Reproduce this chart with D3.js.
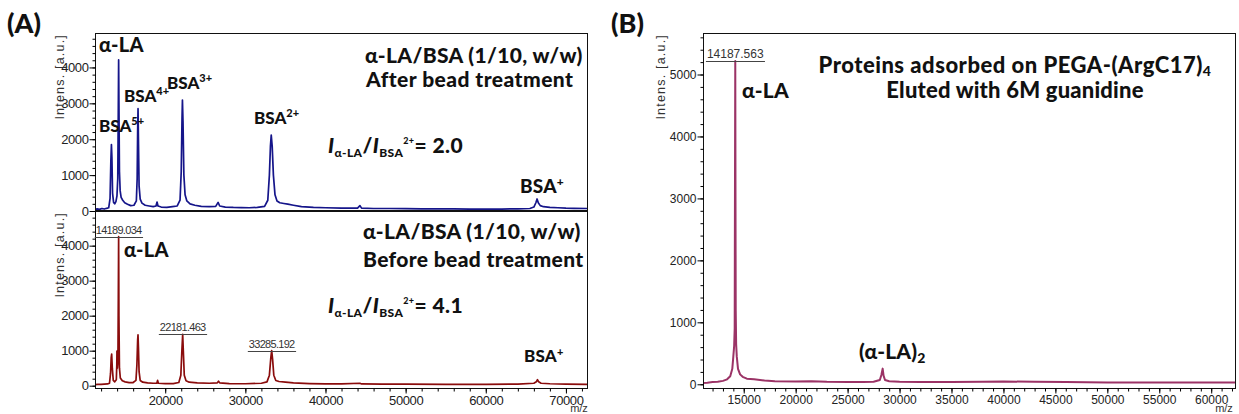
<!DOCTYPE html>
<html>
<head>
<meta charset="utf-8">
<script src="https://cdn.jsdelivr.net/npm/d3@7"></script>
<style>
  body { margin: 0; background: #fff; }
  svg { display: block; }
  .tick text { font-family: "Liberation Sans", Arial, sans-serif; fill: #222; }
  .lbl { font-family: Lato, "Open Sans", sans-serif; font-weight: 900; fill: #111; }
  .ylab, .mz, .peaklab { font-family: "Liberation Sans", Arial, sans-serif; fill: #333; }
</style>
</head>
<body>
<svg id="chart" width="1239" height="414"></svg>
<script>

    //=========================================================================
    // Data (m/z, intensity)
    //=========================================================================
    var afterBead = [
      [11240,40],[11500,60],[11800,45],[12100,70],[12400,55],[12700,75],[12950,90],
      [13120,350],[13220,1400],[13290,1850],[13350,1500],[13430,500],[13560,240],
      [13700,200],[13850,260],[13980,420],[14080,900],[14140,2600],[14189,4210],
      [14230,2900],[14290,1100],[14380,560],[14500,380],[14700,300],[14950,230],
      [15300,190],[15700,150],[16100,160],[16400,280],[16500,900],[16560,2200],
      [16610,2850],[16660,2000],[16740,700],[16880,330],[17100,220],[17500,160],
      [18000,140],[18500,120],[18850,140],[18980,250],[19100,140],[19500,110],
      [20200,100],[20900,120],[21500,140],[21850,300],[22000,1100],[22100,2600],
      [22150,3090],[22220,2500],[22330,1000],[22480,450],[22700,280],[23100,200],
      [23700,160],[24500,130],[25500,120],[26300,130],[26600,240],[26800,140],
      [27500,110],[28500,100],[29500,95],[30500,90],[31500,100],[32400,130],
      [32800,300],[33000,1000],[33130,1800],[33230,2115],[33350,1800],[33500,1000],
      [33700,450],[33950,280],[34300,230],[34800,210],[35300,190],[36000,160],
      [37000,120],[38500,100],[40000,90],[42000,80],[44000,80],[44300,150],
      [44500,80],[46000,70],[48000,70],[50000,65],[52000,60],[54000,60],[56000,60],
      [58000,55],[60000,55],[62000,55],[64000,60],[65500,70],[66000,110],[66250,230],
      [66400,335],[66550,230],[66800,150],[67200,120],[68000,100],[69000,90],
      [70000,80],[71000,75],[72630,70]
    ];

    var beforeBead = [
      [11240,30],[11600,40],[12000,35],[12400,45],[12800,50],[13050,70],[13180,350],
      [13260,800],[13320,905],[13400,500],[13520,150],[13700,110],[13900,170],
      [13960,600],[13980,990],[14030,500],[14100,700],[14150,2500],[14189,4257],
      [14225,2000],[14290,500],[14400,220],[14650,140],[15000,110],[15500,90],
      [16000,90],[16350,150],[16470,600],[16560,1300],[16608,1450],[16660,1100],
      [16740,400],[16880,150],[17200,100],[17800,80],[18500,70],[18950,70],
      [19050,150],[19150,70],[20000,60],[21000,60],[21700,90],[21950,300],
      [22080,1000],[22181,1470],[22260,1000],[22380,300],[22600,140],[23000,100],
      [24000,80],[25500,70],[26500,80],[26650,130],[26800,80],[28000,60],[30000,55],
      [32000,70],[32700,110],[33000,300],[33180,800],[33285,1000],[33400,750],
      [33550,300],[33800,150],[34200,120],[35000,100],[36000,80],[38000,60],
      [40000,50],[42000,50],[44300,70],[44500,50],[47000,45],[50000,45],[55000,40],
      [60000,40],[64000,45],[66000,70],[66300,110],[66450,170],[66600,110],
      [66900,70],[68000,55],[70000,45],[72630,40]
    ];

    var eluted = [
      [11080,20],[11500,25],[12000,35],[12500,40],[13000,55],[13400,80],[13700,130],
      [13900,250],[14000,450],[14080,620],[14130,900],[14160,3300],[14187,5218],
      [14205,3300],[14230,1200],[14270,650],[14330,450],[14450,250],[14650,160],
      [14900,120],[15300,90],[16000,80],[17000,60],[18000,50],[20000,45],[21500,50],
      [23000,40],[25000,35],[26500,35],[27500,40],[28100,70],[28250,150],[28374,253],
      [28460,140],[28600,70],[29000,50],[30000,40],[32000,35],[35000,35],[38000,40],
      [40000,45],[43000,40],[46000,35],[50000,30],[54000,30],[58000,30],[62290,30]
    ];

    // labelled peaks: [m/z, intensity, label]
    var beforePeaks = [[14189.034, 4257, "14189.034"], [22181.463, 1470, "22181.463"], [33285.192, 1000, "33285.192"]];
    var elutedPeaks = [[14187.563, 5218, "14187.563"]];

    // tick values
    var aXTicks = [20000, 30000, 40000, 50000, 60000, 70000];
    var aYTicks = [0, 1000, 2000, 3000, 4000];
    var bXTicks = [15000, 20000, 25000, 30000, 35000, 40000, 45000, 50000, 55000, 60000];
    var bYTicks = [0, 1000, 2000, 3000, 4000, 5000];

    //=========================================================================
    // Panel helper
    //=========================================================================
    var svg = d3.select("#chart");
    var clipId = 0;

    function makePanel(o) {
      var x = d3.scaleLinear().domain(o.xDomain).range([o.left, o.right]);
      var y = d3.scaleLinear().domain(o.yDomain).range([o.bottom, o.top]);
      var g = svg.append("g");

      clipId++;
      svg.append("clipPath").attr("id", "clip" + clipId)
        .append("rect")
        .attr("x", o.left).attr("y", o.top)
        .attr("width", o.right - o.left).attr("height", o.bottom - o.top);

      // spectrum
      g.append("path")
        .datum(o.data)
        .attr("clip-path", "url(#clip" + clipId + ")")
        .attr("fill", "none")
        .attr("stroke", o.color)
        .attr("stroke-width", o.lineWidth)
        .attr("stroke-linejoin", "round")
        .attr("d", d3.line().x(function(d){ return x(d[0]); }).y(function(d){ return y(d[1]); }));

      // frame
      g.append("rect")
        .attr("x", o.left + 0.5).attr("y", o.top + 0.5)
        .attr("width", o.right - o.left).attr("height", o.bottom - o.top)
        .attr("fill", "none").attr("stroke", "#111").attr("stroke-width", 1);

      // y axis, minor + major
      var minorY = d3.range(0, o.yDomain[1], o.yMinor);
      g.append("g").attr("transform", "translate(" + (o.left + 0.5) + ",0)")
        .call(d3.axisLeft(y).tickValues(minorY).tickSize(3).tickFormat(""))
        .call(function(a){ a.select(".domain").remove(); });
      g.append("g").attr("transform", "translate(" + (o.left + 0.5) + ",0)")
        .call(d3.axisLeft(y).tickValues(o.yTicks).tickSize(6).tickPadding(1).tickFormat(d3.format("d")))
        .call(function(a){
          a.select(".domain").remove();
          a.selectAll("text").style("font-size", o.tickFont + "px").style("letter-spacing", o.tickSpacing + "px");
        });

      // y label
      g.append("text").attr("class", "ylab")
        .attr("transform", "translate(" + o.ylabX + "," + (o.top + 1) + ") rotate(-90)")
        .attr("text-anchor", "end")
        .style("font-size", "12.5px").style("letter-spacing", "1.2px")
        .text("Intens. [a.u.]");

      if (o.xAxis) {
        var minorX = d3.range(Math.ceil(o.xDomain[0] / o.xMinor) * o.xMinor, o.xDomain[1], o.xMinor);
        g.append("g").attr("transform", "translate(0," + (o.bottom + 0.5) + ")")
          .call(d3.axisBottom(x).tickValues(minorX).tickSize(3).tickFormat(""))
          .call(function(a){ a.select(".domain").remove(); });
        g.append("g").attr("transform", "translate(0," + (o.bottom + 0.5) + ")")
          .call(d3.axisBottom(x).tickValues(o.xTicks).tickSize(5).tickPadding(2).tickFormat(d3.format("d")))
          .call(function(a){
            a.select(".domain").remove();
            a.selectAll("text").style("font-size", o.tickFont + "px").style("letter-spacing", o.tickSpacing + "px");
          });
        g.append("text").attr("class", "mz")
          .attr("x", o.mzX).attr("y", o.bottom + 24)
          .attr("text-anchor", "middle")
          .style("font-size", "11px")
          .text("m/z");
      }

      // peak labels with underline
      (o.peaks || []).forEach(function(p){
        var px = x(p[0]), py = y(p[1]);
        var t = g.append("text").attr("class", "peaklab")
          .attr("x", px).attr("y", py - 3)
          .attr("text-anchor", "middle")
          .style("font-size", o.peakFont + "px").style("letter-spacing", o.peakSpacing + "px")
          .text(p[2]);
        var bb = t.node().getBBox();
        g.append("line")
          .attr("x1", bb.x - 1).attr("x2", bb.x + bb.width + 1)
          .attr("y1", Math.round(py) + 0.5).attr("y2", Math.round(py) + 0.5)
          .attr("stroke", "#444").attr("stroke-width", 1);
      });

      return { x: x, y: y, g: g };
    }

    //=========================================================================
    // Panels
    //=========================================================================
    var top = makePanel({
      left: 95, right: 587, top: 33, bottom: 211,
      xDomain: [11240, 72630], yDomain: [0, 4960],
      data: afterBead, color: "#15158a", lineWidth: 1.7,
      yTicks: aYTicks, yMinor: 200, ylabX: 64,
      tickFont: 13, tickSpacing: -0.4, xAxis: false
    });

    var low = makePanel({
      left: 95, right: 587, top: 211, bottom: 388,
      xDomain: [11240, 72630], yDomain: [-66, 4990],
      data: beforeBead, color: "#8a0c0c", lineWidth: 1.7,
      yTicks: aYTicks, yMinor: 200, ylabX: 64,
      xTicks: aXTicks, xMinor: 2000, mzX: 579,
      tickFont: 13, tickSpacing: -0.4, xAxis: true,
      peaks: beforePeaks, peakFont: 11, peakSpacing: -0.7
    });

    // thick separator between stacked spectra
    svg.append("line").attr("x1", 95).attr("x2", 587).attr("y1", 211).attr("y2", 211)
      .attr("stroke", "#111").attr("stroke-width", 2.2);

    var right = makePanel({
      left: 703, right: 1235, top: 33, bottom: 388,
      xDomain: [11080, 62290], yDomain: [-60, 5670],
      data: eluted, color: "#9b3366", lineWidth: 2,
      yTicks: bYTicks, yMinor: 200, ylabX: 665,
      xTicks: bXTicks, xMinor: 1000, mzX: 1224,
      tickFont: 12, tickSpacing: 0, xAxis: true,
      peaks: elutedPeaks, peakFont: 12, peakSpacing: 0
    });

    //=========================================================================
    // Annotations
    //=========================================================================
    function label(x, y, size, spacing, parts) {
      var t = svg.append("text").attr("class", "lbl")
        .attr("x", x).attr("y", y)
        .style("font-size", size + "px").style("letter-spacing", spacing + "px");
      var shift = 0;
      parts.forEach(function(p){
        var s = t.append("tspan").text(p.t);
        var want = p.dy || 0;
        s.attr("dy", want - shift);
        shift = want;
        if (p.s) s.style("font-size", p.s + "px");
        if (p.i) s.style("font-style", "italic");
      });
      return t;
    }

    svg.append("text").attr("class", "lbl").attr("x", 7).attr("y", 33).style("font-size", "27px").text("(A)");
    svg.append("text").attr("class", "lbl").attr("x", 611).attr("y", 33).style("font-size", "27px").text("(B)");

    // top spectrum
    label(99, 52, 20, 0.2, [{t: "α-LA"}]);
    label(99, 132, 17, 0, [{t: "BSA"}, {t: "5+", s: 11, dy: -7}]);
    label(124, 102, 17, 0, [{t: "BSA"}, {t: "4+", s: 11, dy: -7}]);
    label(167, 89, 17, 0, [{t: "BSA"}, {t: "3+", s: 11, dy: -7}]);
    label(254, 124, 17, 0, [{t: "BSA"}, {t: "2+", s: 11, dy: -7}]);
    label(365, 63, 21, 0.35, [{t: "α-LA/BSA (1/10, w/w)"}]);
    label(366, 87, 21, 0.45, [{t: "After bead treatment"}]);
    label(328, 153, 21, 0.4, [{t: "I", i: true}, {t: "α-LA", s: 12, dy: 4}, {t: "/"}, {t: "I", i: true},
      {t: "BSA", s: 12, dy: 4}, {t: "2+", s: 9, dy: -9}, {t: "= 2.0"}]);
    label(520, 193, 19, 0.2, [{t: "BSA"}, {t: "+", s: 12, dy: -7}]);

    // lower spectrum
    label(124, 257, 20, 0.2, [{t: "α-LA"}]);
    label(363, 239, 21, 0.35, [{t: "α-LA/BSA (1/10, w/w)"}]);
    label(363, 267, 21, 0.35, [{t: "Before bead treatment"}]);
    label(328, 313, 21, 0.4, [{t: "I", i: true}, {t: "α-LA", s: 12, dy: 4}, {t: "/"}, {t: "I", i: true},
      {t: "BSA", s: 12, dy: 4}, {t: "2+", s: 9, dy: -9}, {t: "= 4.1"}]);
    label(524, 362, 17, 0.2, [{t: "BSA"}, {t: "+", s: 11, dy: -6}]);

    // panel B
    label(742, 98, 21, 0.2, [{t: "α-LA"}]);
    label(1015, 73, 22, 0.5, [{t: "Proteins adsorbed on PEGA-(ArgC17)"}, {t: "4", s: 14, dy: 3}]).attr("text-anchor", "middle");
    label(1015, 98, 22, 0.2, [{t: "Eluted with 6M guanidine"}]).attr("text-anchor", "middle");
    label(859, 359, 21, 0.2, [{t: "(α-LA)"}, {t: "2", s: 14, dy: 4}]);

</script>
</body>
</html>
